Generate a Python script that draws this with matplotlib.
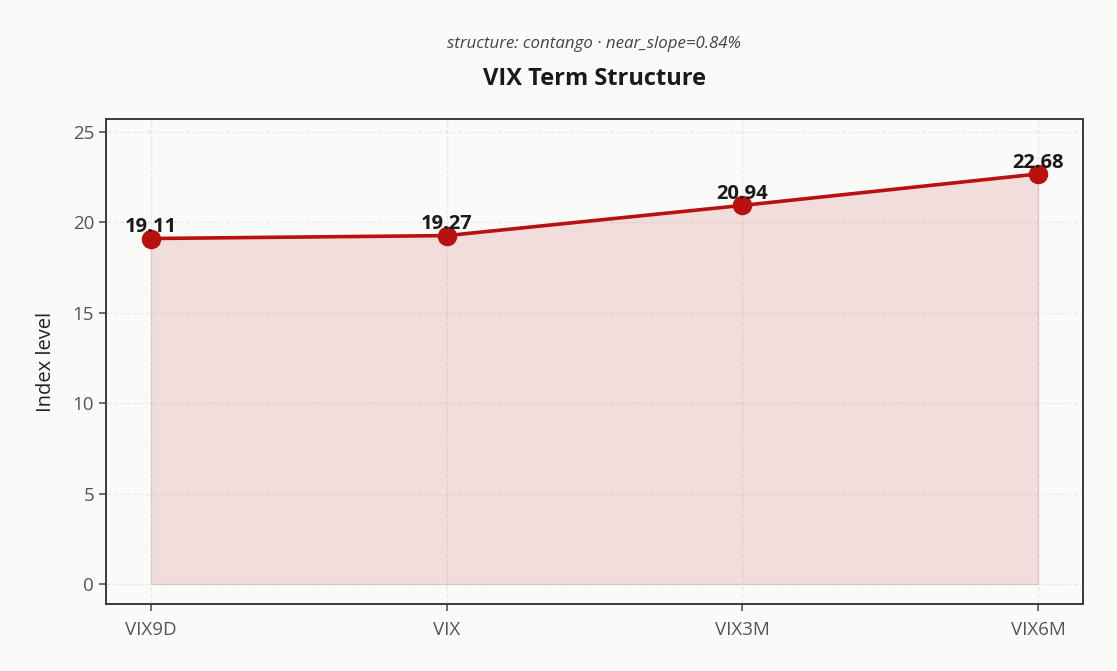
import numpy as np
import matplotlib.pyplot as plt

## Data
tenors = ["VIX9D", "VIX", "VIX3M", "VIX6M"]
levels = [19.11, 19.27, 20.94, 22.68]
structure = "contango"
near_slope = 0.84

plt.rcParams['font.family'] = ['Open Sans', 'DejaVu Sans']
bg = "#fafaf9"
red = "#b8110f"

fig = plt.figure(figsize=(11.17, 6.71), dpi=100, facecolor=bg)
ax = fig.add_axes([0.0949, 0.0999, 0.8747, 0.7228], facecolor=bg)

x = np.arange(len(tenors))
ax.fill_between(x, levels, 0, color=red, alpha=0.12, zorder=1)
ax.plot(x, levels, color=red, lw=2.6, zorder=3)
ax.scatter(x, levels, s=170, color=red, zorder=4)
for xi, v in zip(x, levels):
    ax.annotate(f"{v:.2f}", (xi, v), xytext=(0, 1), textcoords="offset points",
                ha="center", va="bottom", fontsize=14.5, fontweight="bold",
                color="#1a1a1a", zorder=5)

ax.set_xticks(x)
ax.set_xticklabels(tenors)
ax.set_xlim(-0.152, 3.152)
ax.set_ylim(-1.1, 25.72)
ax.set_yticks([0, 5, 10, 15, 20, 25])
ax.set_ylabel("Index level", fontsize=14.5, color="#222222", labelpad=12)
ax.tick_params(axis="both", labelsize=13.5, colors="#555555", length=5, width=1.2)
ax.tick_params(axis="x", pad=7)
ax.grid(True, ls="--", color="#dddddd", alpha=0.6, lw=0.9)
ax.set_axisbelow(True)
for s in ax.spines.values():
    s.set_color("#3a3a3a")
    s.set_linewidth(1.4)

fig.text(0.532, 0.934, f"structure: {structure} · near_slope={near_slope:.2f}%",
         ha="center", va="center", fontsize=12.2, style="italic", color="#444444")
fig.text(0.532, 0.883, "VIX Term Structure", ha="center", va="center",
         fontsize=17, fontweight="bold", color="#1a1a1a")

plt.savefig("out.png", dpi=100, facecolor=bg)
plt.close()
